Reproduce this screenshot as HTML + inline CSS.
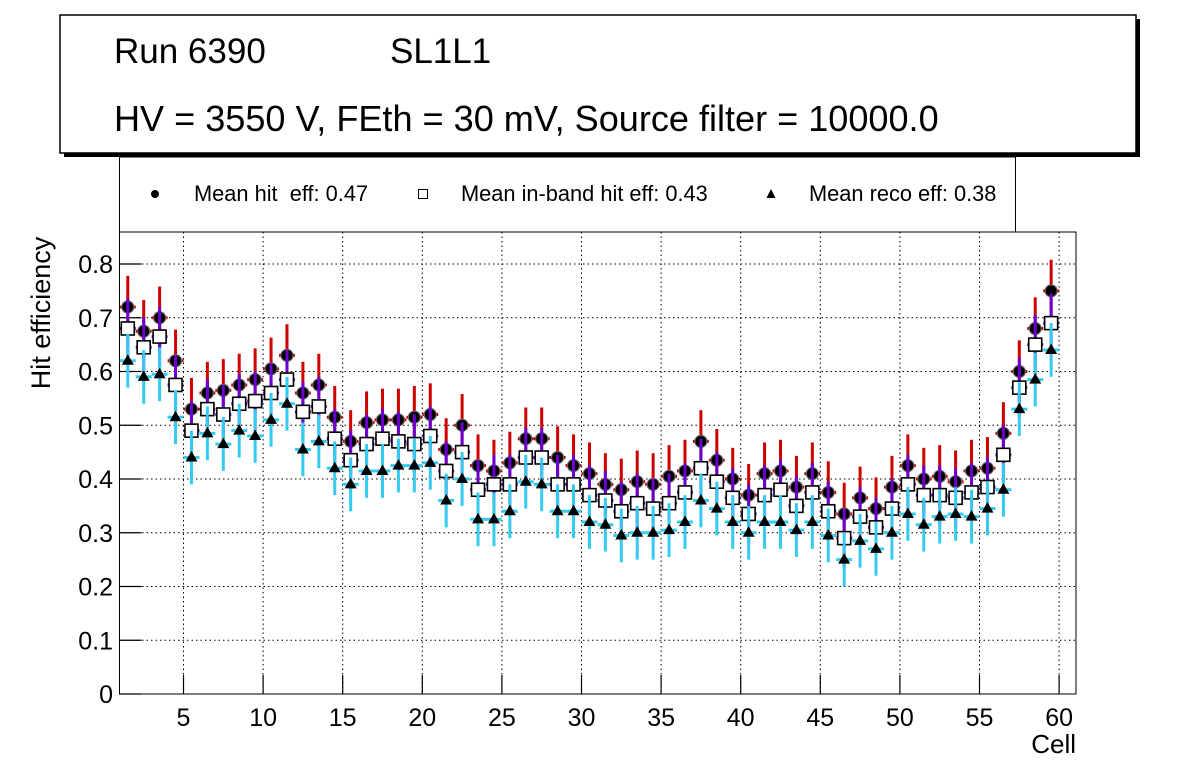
<!DOCTYPE html>
<html><head><meta charset="utf-8"><style>
body{margin:0;background:#fff;}
svg{display:block;font-family:"Liberation Sans",Arial,sans-serif;}
text{white-space:pre;}
</style></head><body>
<svg id="c" width="1196" height="772" viewBox="0 0 1196 772" xmlns="http://www.w3.org/2000/svg" xml:space="preserve">
<rect x="0" y="0" width="1196" height="772" fill="#fff"/>
<g>
<rect x="64" y="19" width="1076" height="138" fill="#000"/>
<rect x="60" y="15" width="1076" height="138" fill="#fff" stroke="#000" stroke-width="1.5"/>
<text x="114" y="63" font-size="35">Run 6390</text>
<text x="390" y="63" font-size="35">SL1L1</text>
<text x="114" y="131" font-size="36.1">HV = 3550 V, FEth = 30 mV, Source filter = 10000.0</text>
</g>
<g>
<rect x="119.5" y="157" width="896" height="75" fill="#fff" stroke="#000" stroke-width="1"/>
<g><circle cx="155" cy="194" r="4" fill="#000"/><text x="194" y="201" font-size="21.8">Mean hit  eff: 0.47</text></g>
<g><rect x="418.5" y="189.5" width="9" height="9" fill="#fff" stroke="#000"/><text x="461" y="201" font-size="21.8">Mean in-band hit eff: 0.43</text></g>
<g><polygon points="771,189 775.5,198 766.5,198" fill="#000"/><text x="809" y="201" font-size="21.8">Mean reco eff: 0.38</text></g>
</g>
<g id="grid"></g>
<g id="axes"></g>
<g id="marks"></g>
<text x="50" y="313" font-size="27" text-anchor="middle" transform="rotate(-90 50 313)">Hit efficiency</text>
<text x="1076" y="753" font-size="26" text-anchor="end">Cell</text>
</svg>
<script>
const cells=[];for(let i=1;i<=59;i++)cells.push(i);
const hitEff=[0.72,0.675,0.70,0.62,0.53,0.56,0.565,0.575,0.585,0.605,0.63,0.56,0.575,0.515,0.47,0.505,0.51,0.51,0.515,0.52,0.455,0.50,0.425,0.415,0.43,0.475,0.475,0.44,0.425,0.41,0.39,0.38,0.395,0.39,0.405,0.415,0.47,0.435,0.40,0.37,0.41,0.415,0.385,0.41,0.375,0.335,0.365,0.345,0.385,0.425,0.40,0.405,0.395,0.415,0.42,0.485,0.60,0.68,0.75];
const bandEff=[0.68,0.645,0.665,0.575,0.49,0.53,0.52,0.54,0.545,0.56,0.585,0.525,0.535,0.475,0.435,0.465,0.475,0.47,0.465,0.48,0.415,0.45,0.38,0.39,0.39,0.44,0.44,0.39,0.39,0.37,0.36,0.34,0.355,0.345,0.355,0.375,0.42,0.395,0.365,0.335,0.37,0.38,0.35,0.375,0.34,0.29,0.33,0.31,0.345,0.39,0.37,0.37,0.365,0.375,0.385,0.445,0.57,0.65,0.69];
const recoEff=[0.62,0.59,0.595,0.515,0.44,0.485,0.465,0.49,0.48,0.51,0.54,0.455,0.47,0.42,0.39,0.415,0.415,0.425,0.425,0.43,0.36,0.40,0.325,0.325,0.34,0.395,0.39,0.34,0.34,0.32,0.315,0.295,0.30,0.30,0.305,0.32,0.36,0.345,0.32,0.30,0.32,0.32,0.305,0.32,0.295,0.25,0.285,0.27,0.30,0.335,0.315,0.33,0.335,0.33,0.345,0.38,0.53,0.585,0.64];
const errHit=0.058, errBand=0.055, errReco=0.05;
const xTicks=[5,10,15,20,25,30,35,40,45,50,55,60];
const yTicks=[0,0.1,0.2,0.3,0.4,0.5,0.6,0.7,0.8];

const L=119.5,R=1076,T=232,B=694;
const X=v=>103.9+15.92*v;
const Y=v=>694-537.5*v;
const NS="http://www.w3.org/2000/svg";
function mk(tag,parent,attrs){const e=document.createElementNS(NS,tag);for(const k in attrs)e.setAttribute(k,attrs[k]);parent.appendChild(e);return e;}
const grid=document.getElementById('grid'),axes=document.getElementById('axes'),marks=document.getElementById('marks');
mk('rect',axes,{x:L,y:T,width:R-L,height:B-T,fill:'none',stroke:'#000','stroke-width':1});
xTicks.forEach(t=>{
 const x=X(t);
 const g=mk('line',grid,{x1:x,x2:x,y1:T,y2:B,stroke:'#000','stroke-dasharray':'1.5,3','stroke-width':1});
 
 mk('line',axes,{x1:x,x2:x,y1:B,y2:B-19,stroke:'#000','stroke-width':1.2});
 const tx=mk('text',axes,{x:x,y:726,'font-size':25,'text-anchor':'middle'});tx.textContent=t;
 
});
yTicks.forEach(t=>{
 const y=Y(t);
 if(t>0){const g=mk('line',grid,{x1:L,x2:R,y1:y,y2:y,stroke:'#000','stroke-dasharray':'1.5,3','stroke-width':1});
 }
 mk('line',axes,{x1:L,x2:L+22,y1:y,y2:y,stroke:'#000','stroke-width':1.2});
 const tx=mk('text',axes,{x:113,y:y+9,'font-size':25,'text-anchor':'end'});tx.textContent=t===0?'0':t.toFixed(1);
 
});
function series(vals,err,color,marker,name){
 const g=mk('g',marks,{});
 
 
 vals.forEach((v,i)=>{
  const c=cells[i]+0.5,x=X(c),y=Y(v);
  mk('line',g,{x1:X(c-0.5),x2:X(c+0.5),y1:y,y2:y,stroke:color,'stroke-width':3});
  mk('line',g,{x1:x,x2:x,y1:Y(v+err),y2:Y(v-err),stroke:color,'stroke-width':3});
  let m;
  if(marker==='circle')m=mk('circle',g,{cx:x,cy:y,r:6,fill:'#000',stroke:'#666','stroke-width':1.2});
  else if(marker==='square')m=mk('rect',g,{x:x-6.5,y:y-6.5,width:13,height:13,fill:'#fff',stroke:'#000','stroke-width':1.6});
  else m=mk('polygon',g,{points:`${x},${y-6.5} ${x+6},${y+4} ${x-6},${y+4}`,fill:'#000'});
  
  
 });
}
series(hitEff,errHit,'#d00000','circle','hit-eff-series');
series(bandEff,errBand,'#6a00d0','square','inband-eff-series');
series(recoEff,errReco,'#33ccf0','triangle','reco-eff-series');
</script>
</body></html>
